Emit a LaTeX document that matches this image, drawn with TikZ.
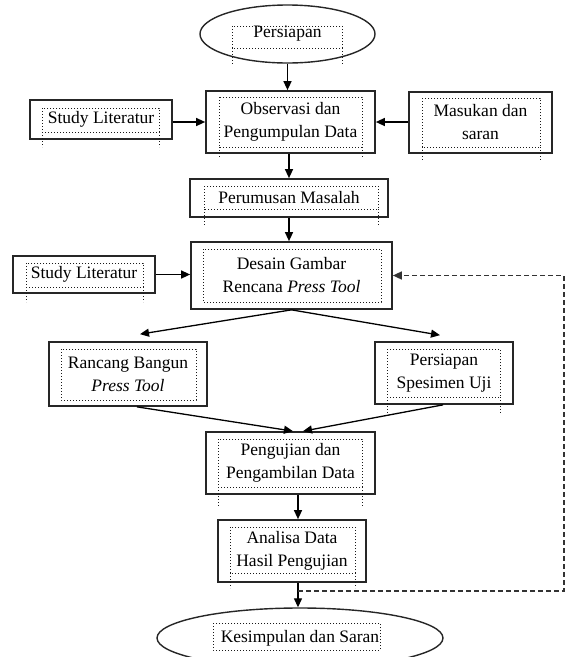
\documentclass[tikz,border=0pt]{standalone}
\usepackage{fontspec}
\setmainfont{Liberation Serif}
\usetikzlibrary{shapes.geometric,arrows.meta}

\tikzset{
	blok/.style={draw, rectangle, line width=1.7pt, black!85, text=black, align=center, inner sep=0pt, font=\fontsize{17.5}{23}\selectfont},
	oval/.style={blok, ellipse, line width=1.4pt},
	panah/.style={line width=1.3pt, -{Triangle[length=9pt,width=8pt]}},
	balikan/.style={panah, black!80, line width=1.5pt, dash pattern=on 5pt off 3pt},
	bingkai/.style={dotted, line width=1pt, black!90}
}
% dotted text frame: x1, y1, x2, y2, end of the side lines
\newcommand{\txtframe}[5]{\draw [bingkai] (#1,#2) rectangle (#3,#4) (#1,#4) -- (#1,#5) (#3,#4) -- (#3,#5);}

\begin{document}
\begin{tikzpicture}[x=1pt, y=-1pt]
	\useasboundingbox (0,0) rectangle (566,657);
	\node [oval, minimum width=175pt, minimum height=58pt] (persiapan) at (287.5,34) {\raisebox{-3pt}{Persiapan}};
	\node [blok, minimum width=169pt, minimum height=62pt] (observasi) at (290.5,122) {Observasi dan\\Pengumpulan Data};
	\node [blok, minimum width=142pt, minimum height=39pt] (studyA) at (101,119.5) {Study Literatur};
	\node [blok, minimum width=143pt, minimum height=61pt] (masukan) at (480.5,122.5) {Masukan dan\\saran};
	\node [blok, minimum width=198pt, minimum height=38pt] (perumusan) at (289,198) {Perumusan Masalah};
	\node [blok, minimum width=201pt, minimum height=67pt] (desain) at (291.5,275.5) {Desain Gambar\\Rencana \textit{Press Tool}};
	\node [blok, minimum width=142pt, minimum height=37pt] (studyB) at (84,274.5) {Study Literatur};
	\node [blok, minimum width=158pt, minimum height=64pt] (rancang) at (128,374) {Rancang Bangun\\\textit{Press Tool}};
	\node [blok, minimum width=138pt, minimum height=62pt] (spesimen) at (444,373) {Persiapan\\Spesimen Uji};
	\node [blok, minimum width=169pt, minimum height=62pt] (pengujian) at (290.5,463) {Pengujian dan\\Pengambilan Data};
	\node [blok, minimum width=148pt, minimum height=62pt] (analisa) at (292,551) {Analisa Data\\Hasil Pengujian};
	\node [oval, minimum width=286pt, minimum height=60pt] (kesimpulan) at (300,638) {Kesimpulan dan Saran};

	\txtframe{232}{26}{342}{48}{65}
	\txtframe{219}{97}{362}{147}{159}
	\txtframe{42}{108}{159}{132}{147}
	\txtframe{422}{98}{540}{147}{162}
	\txtframe{204}{186}{378}{209}{225}
	\txtframe{203}{249}{381}{302}{302}
	\txtframe{26}{263}{143}{287}{302}
	\txtframe{61}{349}{196}{400}{400}
	\txtframe{387}{349}{500}{397}{413}
	\txtframe{218}{439}{362}{487}{506}
	\txtframe{230}{527}{355}{573}{588}
	\txtframe{213}{623}{380}{650}{650}

	\draw [panah] (persiapan.south) -- (persiapan.south |- observasi.north);
	\draw [panah] (studyA.east |- observasi.west) -- (observasi.west);
	\draw [panah] (masukan.west |- observasi.east) -- (observasi.east);
	\draw [panah] (perumusan.north |- observasi.south) -- (perumusan.north);
	\draw [panah] (perumusan.south) -- (perumusan.south |- desain.north);
	\draw [panah] (studyB.east) -- (studyB.east -| desain.west);
	\draw [panah] (desain.south) -- ([xshift=12pt,yshift=7pt]rancang.north);
	\draw [panah] (desain.south) -- ([xshift=-4pt,yshift=6pt]spesimen.north);
	\draw [panah] ([xshift=9pt]rancang.south) -- ([xshift=2.5pt]pengujian.north);
	\draw [panah] ([xshift=-1pt]spesimen.south) -- ([xshift=12.5pt]pengujian.north);
	\draw [panah] ([xshift=7.5pt]pengujian.south) -- ([xshift=6pt]analisa.north);
	\draw [panah] ([xshift=6pt]analisa.south) -- ([xshift=-2pt]kesimpulan.north);
	\coordinate (balik) at (298,591);
	\draw [balikan] (balik) -| ([xshift=171pt]desain.east) -- (desain.east);
\end{tikzpicture}
\end{document}
